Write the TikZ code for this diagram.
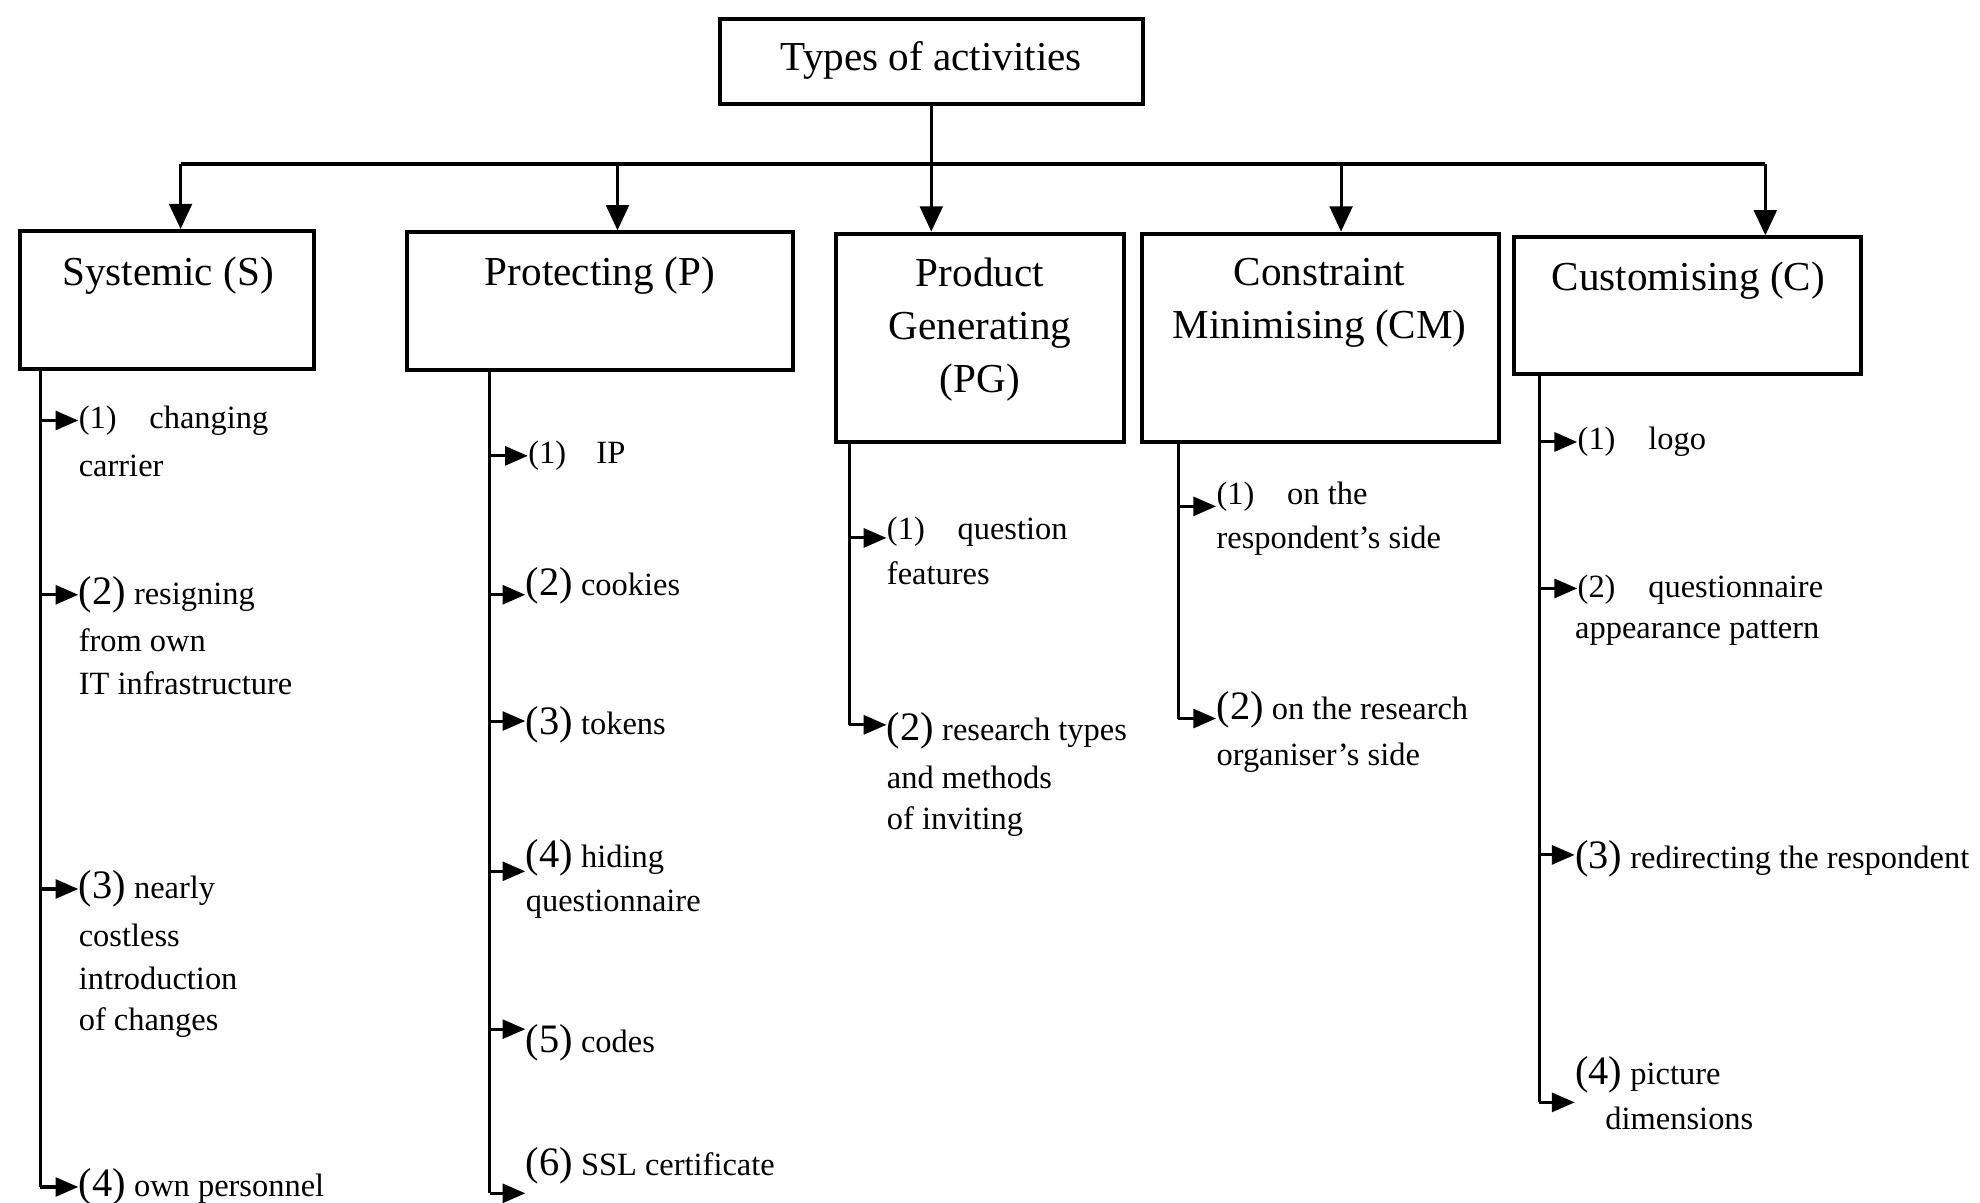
\documentclass[tikz,border=0pt]{standalone}
\usepackage{fontspec}
\setmainfont{Liberation Serif}
\usetikzlibrary{arrows.meta}
\newcommand\bn[1]{{\fontsize{16}{17.5}\selectfont(#1)}}
\begin{document}
\begin{tikzpicture}[x=0.5pt,y=-0.5pt,
  boxst/.style={draw,line width=1.6pt,inner sep=0,rectangle},
  ttl/.style={font=\fontsize{16.3}{21}\selectfont,inner sep=0,align=center},
  itm/.style={font=\fontsize{12.85}{17.5}\selectfont,inner sep=0,anchor=west},
  link/.style={line width=1.2pt},
  hlink/.style={line width=1.5pt},
  downarr/.style={line width=1.2pt,-{Triangle[length=10pt,width=9pt]}},
  itmarr/.style={line width=1.2pt,-{Triangle[length=9pt,width=7.5pt]}}]
\useasboundingbox (0,0) rectangle (1568,952.6);

% boxes
\node[boxst,minimum width=167.5pt,minimum height=33.5pt] (T) at (737.5,48.5) {};
\node[boxst,minimum width=116.5pt,minimum height=54.5pt] (S) at (132.5,237.5) {};
\node[boxst,minimum width=153pt,minimum height=54.5pt] (P) at (475,238.5) {};
\node[boxst,minimum width=114pt,minimum height=82.5pt] (PG) at (776,267.5) {};
\node[boxst,minimum width=141.5pt,minimum height=82.5pt] (CM) at (1045.5,267.5) {};
\node[boxst,minimum width=137.5pt,minimum height=54pt] (C) at (1336.5,242) {};

% titles
\node[ttl] (Tt) at (737.5,48) {Types of activities};
\node[ttl] (St) at (133,218) {Systemic (S)};
\node[ttl] (Pt) at (475,218) {Protecting (P)};
\node[ttl] (PGt) at (776,261) {Product\\Generating\\(PG)};
\node[ttl] (CMt) at (1045,240) {Constraint\\Minimising (CM)};
\node[ttl] (Ct) at (1337,222) {Customising (C)};

% top connectors
\coordinate (hl) at (143,130);
\coordinate (hp) at (489,130);
\coordinate (hm) at (1062,130);
\coordinate (hr) at (1398,130);
\draw[hlink] (hl) -- (hr);
\draw[downarr] (T.south) -- (T.south |- PG.north);
\draw[downarr] (hl) -- (hl |- S.north);
\draw[downarr] (hp) -- (hp |- P.north);
\draw[downarr] (hm) -- (hm |- CM.north);
\draw[downarr] (hr) -- (hr |- C.north);

% ---------- Systemic
\coordinate (sx) at (32,0);
\node[itm] (s1) at (62,333) {(1)\hspace{13pt}changing};
\node[itm] (s1b) at (62,369) {carrier};
\node[itm] (s2) at (62,471) {\bn{2} resigning};
\node[itm] (s2b) at (62,507) {from own};
\node[itm] (s2c) at (62,541) {IT infrastructure};
\node[itm] (s3) at (62,704) {\bn{3} nearly};
\node[itm] (s3b) at (62,741) {costless};
\node[itm] (s3c) at (62,775) {introduction};
\node[itm] (s3d) at (62,810) {of changes};
\node[itm] (s4) at (62,940) {\bn{4} own personnel};
\draw[link] (S.south -| sx) -- (sx |- s4.west);
\foreach \n in {s1,s2,s3,s4} \draw[itmarr] (\n.west -| sx) -- (\n.west);

% ---------- Protecting
\coordinate (px) at (388,0);
\node[itm] (p1) at (418,361) {(1)\hspace{12pt}IP};
\node[itm] (p2) at (416,464) {\bn{2} cookies};
\node[itm] (p3) at (416,574) {\bn{3} tokens};
\node[itm] (p4) at (416,679) {\bn{4} hiding};
\node[itm] (p4b) at (416,716) {questionnaire};
\node[itm] (p5) at (416,826) {\bn{5} codes};
\node[itm] (p6) at (416,923) {\bn{6} SSL certificate};
\coordinate (p1a) at (0,361);
\coordinate (p2a) at (0,471);
\coordinate (p3a) at (0,571);
\coordinate (p4a) at (0,690);
\coordinate (p5a) at (0,815);
\coordinate (p6a) at (0,945);
\draw[link] (P.south -| px) -- (p6a -| px);
\foreach \n in {p1,p2,p3,p4,p5,p6} \draw[itmarr] (\n a -| px) -- (\n a -| \n.west);

% ---------- Product Generating
\coordinate (gx) at (672.5,0);
\node[itm] (g1) at (702,421) {(1)\hspace{13pt}question};
\node[itm] (g1b) at (702,454) {features};
\node[itm] (g2) at (702,579) {\bn{2} research types};
\node[itm] (g2b) at (702,616) {and methods};
\node[itm] (g2c) at (702,651) {of inviting};
\coordinate (g1a) at (0,426);
\coordinate (g2a) at (0,574);
\draw[link] (PG.south -| gx) -- (g2a -| gx);
\foreach \n in {g1,g2} \draw[itmarr] (\n a -| gx) -- (\n a -| \n.west);

% ---------- Constraint Minimising
\coordinate (mx) at (933,0);
\node[itm] (m1) at (963,393) {(1)\hspace{13pt}on the};
\node[itm] (m1b) at (963,428) {respondent's side};
\node[itm] (m2) at (963,562) {\bn{2} on the research};
\node[itm] (m2b) at (963,600) {organiser's side};
\coordinate (m1a) at (0,401);
\coordinate (m2a) at (0,569);
\draw[link] (CM.south -| mx) -- (m2a -| mx);
\foreach \n in {m1,m2} \draw[itmarr] (\n a -| mx) -- (\n a -| \n.west);

% ---------- Customising
\coordinate (ux) at (1219,0);
\node[itm] (u1) at (1249,350) {(1)\hspace{13pt}logo};
\node[itm] (u2) at (1249,467) {(2)\hspace{13pt}questionnaire};
\node[itm] (u2b) at (1247,501) {appearance pattern};
\node[itm] (u3) at (1247,680) {\bn{3} redirecting the respondent};
\node[itm] (u4) at (1247,851) {\bn{4} picture};
\node[itm] (u4b) at (1271,886) {dimensions};
\coordinate (u1a) at (0,350);
\coordinate (u2a) at (0,466);
\coordinate (u3a) at (0,677);
\coordinate (u4a) at (0,873);
\draw[link] (C.south -| ux) -- (u4a -| ux);
\foreach \n in {u1,u2,u3,u4} \draw[itmarr] (\n a -| ux) -- (\n a -| \n.west);
\end{tikzpicture}
\end{document}
